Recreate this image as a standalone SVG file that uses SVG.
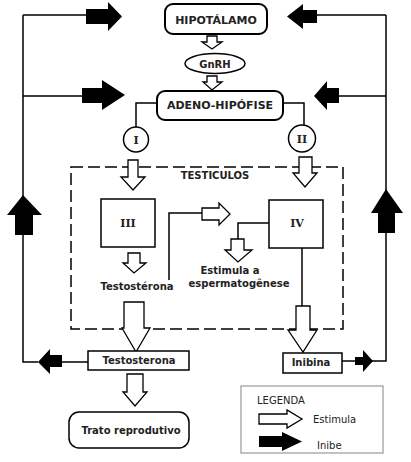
<svg xmlns="http://www.w3.org/2000/svg" width="411" height="462" viewBox="0 0 411 462">
<style>
.bx{fill:#fff;stroke:#000;stroke-width:2}
.bt{fill:#fff;stroke:#000;stroke-width:1.5}
.ln{fill:none;stroke:#000;stroke-width:1.5}
.wa{fill:#fff;stroke:#000;stroke-width:1.3;stroke-linejoin:miter}
.ba{fill:#000;stroke:none}
.t{font-family:"DejaVu Sans","Liberation Sans",sans-serif;font-weight:bold;fill:#222;text-anchor:middle}
.r{font-family:"DejaVu Serif","Liberation Serif",serif;font-weight:bold;fill:#222;text-anchor:middle}
.lg{font-family:"DejaVu Sans","Liberation Sans",sans-serif;font-size:10px;fill:#222}
</style>
<rect width="411" height="462" fill="#fff"/>
<g id="connectors">
  <path class="ln" d="M23,15 V362 H38 M62,362 H88 M23,15 H86 M23,96 H82"/>
  <path class="ln" d="M386,15 V361 H372 M355,361 H342 M317,15 H386 M339,96 H386"/>
  <path class="ln" d="M157,103 H136 V127 M283,103 H304 V125"/>
  <path class="ln" d="M169,280 V213 H202"/>
  <path class="ln" d="M269,223 H238 V239"/>
  <path class="ln" d="M302,248 V306"/>
  <rect x="71" y="167" width="272" height="162" fill="none" stroke="#000" stroke-width="1.5" stroke-dasharray="12 5"/>
  <!-- black inhibition arrows -->
  <polygon class="ba" points="86,9 108,9 108,2 122,16.5 108,31 108,24 86,24"/>
  <polygon class="ba" points="82,88 102,88 102,80 125,95 102,110 102,103 82,103"/>
  <polygon class="ba" points="317,10 303,10 303,4 287,16.5 303,29 303,23 317,23"/>
  <polygon class="ba" points="339,88 327,88 327,81 314,96 327,110 327,103 339,103"/>
  <polygon class="ba" points="15,235 15,215 7,215 23,195 42,215 33,215 33,235"/>
  <polygon class="ba" points="378,233 378,213 371,213 386,189 403,213 395,213 395,233"/>
  <polygon class="ba" points="62,355 50,355 50,349 38,362 50,374 50,367 62,367"/>
  <polygon class="ba" points="355,357 363,357 363,350 373,361 363,372 363,365 355,365"/>
  <!-- white stimulation arrows -->
  <polygon class="wa" points="207,36 217,36 217,42 222,42 212,49 202,42 207,42"/>
  <polygon class="wa" points="207,76 217,76 217,82 222,82 212,90 203,82 207,82"/>
  <polygon class="wa" points="128,160 138,160 138,177 145,177 133,190 121,177 128,177"/>
  <polygon class="wa" points="299,157 312,157 312,173 317,173 305,187 293,173 299,173"/>
  <polygon class="wa" points="128,253 140,253 140,263 146,263 134,273 123,263 128,263"/>
  <polygon class="wa" points="202,208 219,208 219,203 230,214 219,225 219,220 202,220"/>
  <polygon class="wa" points="231,239 244,239 244,250 252,250 238,262 225,250 231,250"/>
  <polygon class="wa" points="124,302 144,302 144,328 150,328 136,352 122,328 124,328"/>
  <polygon class="wa" points="296,306 310,306 310,330 317,330 303,352 288,330 296,330"/>
  <polygon class="wa" points="127,374 143,374 143,392 147,392 135,406 123,392 127,392"/>
</g>
<g id="hipotalamo">
  <rect class="bx" x="165" y="4" width="102" height="30" rx="8"/>
  <text class="t" x="216" y="24" font-size="11">HIPOTÁLAMO</text>
</g>
<g id="gnrh">
  <ellipse class="bt" cx="215" cy="63.5" rx="30" ry="10"/>
  <text class="t" x="215" y="67.5" font-size="10">GnRH</text>
</g>
<g id="adeno">
  <rect class="bx" x="157" y="91" width="126" height="29" rx="8"/>
  <text class="t" x="220" y="109" font-size="11">ADENO-HIPÓFISE</text>
</g>
<g id="circle-I">
  <circle class="bt" cx="136" cy="139.5" r="12.5"/>
  <text class="r" x="136" y="144" font-size="11">I</text>
</g>
<g id="circle-II">
  <circle class="bt" cx="302" cy="138.5" r="13.5"/>
  <text class="r" x="302" y="143" font-size="11">II</text>
</g>
<g id="testiculos">
  <text class="t" x="215" y="179" font-size="10">TESTICULOS</text>
</g>
<g id="box-III">
  <rect class="bt" x="101" y="199" width="54" height="48"/>
  <text class="r" x="128" y="227" font-size="11">III</text>
</g>
<g id="box-IV">
  <rect class="bt" x="269" y="200" width="54" height="48"/>
  <text class="r" x="297" y="227" font-size="11">IV</text>
</g>
<g id="testosterona-inner">
  <text class="t" x="137" y="290" font-size="10">Testostérona</text>
</g>
<g id="espermatogenese">
  <text class="t" x="230" y="274" font-size="10">Estimula a</text>
  <text class="t" x="239" y="287" font-size="10">espermatogênese</text>
</g>
<g id="testosterona">
  <rect class="bt" x="88" y="351" width="101" height="19"/>
  <text class="t" x="139" y="364" font-size="10">Testosterona</text>
</g>
<g id="inibina">
  <rect class="bt" x="283" y="353" width="59" height="20"/>
  <text class="t" x="311" y="366" font-size="10">Inibina</text>
</g>
<g id="trato">
  <rect class="bt" x="69" y="412" width="120" height="36" rx="10"/>
  <text class="t" x="131" y="434" font-size="10">Trato reprodutivo</text>
</g>
<g id="legenda">
  <rect x="241" y="386" width="142" height="67" fill="#fff" stroke="#999" stroke-width="1.2"/>
  <text class="lg" x="257" y="404">LEGENDA</text>
  <polygon class="wa" points="259,414 287,414 287,410 302,419 287,428 287,424 259,424"/>
  <text class="lg" x="313" y="423">Estimula</text>
  <polygon class="ba" points="259,436 282,436 282,432 302,441.5 282,451 282,447 259,447"/>
  <text class="lg" x="317" y="449">Inibe</text>
</g>
</svg>
